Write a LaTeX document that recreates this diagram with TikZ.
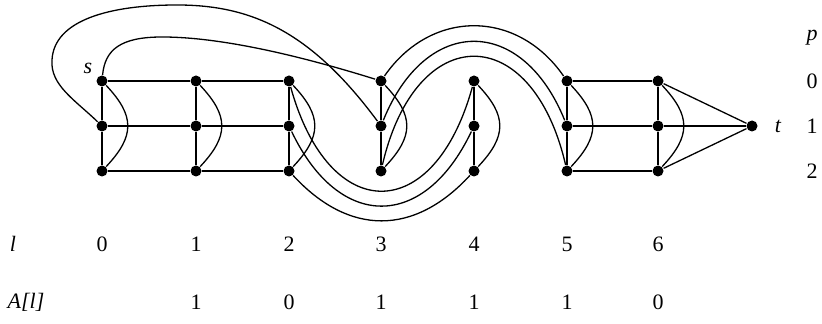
\documentclass[tikz,border=0pt]{standalone}
\usepackage{fontspec}
\setmainfont{Liberation Serif}
\usetikzlibrary{positioning}

\begin{document}
\begin{tikzpicture}[x=0.5pt,y=-0.5pt,line width=0.65pt,font=\fontsize{11}{13}\selectfont,
   dot/.style={circle,fill,inner sep=0pt,minimum size=5.5pt},
   lbl/.style={inner sep=0pt}]
  \useasboundingbox (0,0) rectangle (822,324);
  % grid of layers l and positions p
  \foreach \c/\x in {0/102,1/196,2/289,3/381,4/474,5/567,6/658}
    \foreach \r/\y in {0/81,1/126,2/171}
      \node[dot] (v\c\r) at (\x,\y) {};
  \node[dot] (t) at (752,126) {};
  \foreach \c in {0,...,6} {
    \draw (v\c0) -- (v\c1) -- (v\c2);
    \draw (v\c0) .. controls +(33,35) and +(33,-35) .. (v\c2);
  }
  \foreach \a/\b in {0/1,1/2,5/6}
    \foreach \r in {0,1,2}
      \draw (v\a\r) -- (v\b\r);
  \foreach \r in {0,1,2}
    \draw (v6\r) -- (t);
  % shifts under layer 3
  \draw (v20) .. controls +(40,145) and +(-40,145) .. (v40);
  \draw (v21) .. controls +(50,105) and +(-50,105) .. (v41);
  \draw (v22) .. controls +(60,65) and +(-60,65) .. (v42);
  % shifts over layer 4
  \draw (v30) .. controls +(50,-72) and +(-50,-72) .. (v50);
  \draw (v31) .. controls +(45,-111) and +(-45,-111) .. (v51);
  \draw (v32) .. controls +(35,-151) and +(-35,-151) .. (v52);
  % long arcs from layer 0
  \draw (v00) .. controls (105,50) and (120,37) .. (162,37)
        .. controls (230,37) and (320,62) .. (v30);
  \draw (v01) .. controls (75,100) and (50,85) .. (52,60)
        .. controls (54,20) and (110,5) .. (177,5)
        .. controls (250,5) and (310,30) .. (v31);
  % labels
  \node[lbl] (ls) at (88,68) {\textit{s}};
  \node[lbl,right=8pt of t] (lt) {\textit{t}};
  \node[lbl] (lp) at (812,38) {\textit{p}};
  \foreach \r/\y in {0/81,1/126,2/171}
    \node[lbl] (lp\r) at (812,\y) {\r};
  \node[lbl] (ll) at (13,244) {\textit{l}};
  \foreach \c/\x in {0/102,1/196,2/289,3/381,4/474,5/567,6/658}
    \node[lbl] (ll\c) at (\x,244) {\c};
  \node[lbl] (la) at (26,302) {\textit{A[l]}};
  \foreach \c/\x/\v in {1/196/1,2/289/0,3/381/1,4/474/1,5/567/1,6/658/0}
    \node[lbl] (la\c) at (\x,302) {\v};
\end{tikzpicture}
\end{document}
